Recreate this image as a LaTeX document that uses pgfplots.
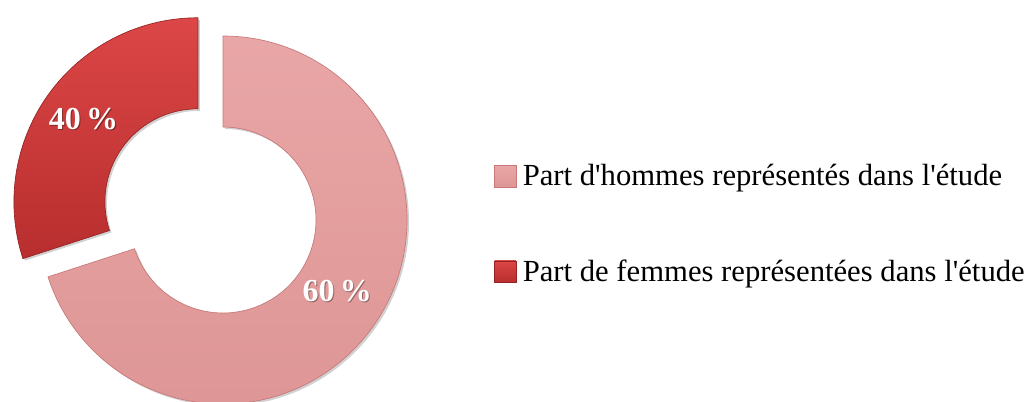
\documentclass[border=0pt]{standalone}
\usepackage{pgfplots}
\usepackage{pgfplotstable}
\pgfplotsset{compat=1.18}
\usetikzlibrary{calc}
\usepackage{fontspec}
\setmainfont{Liberation Serif}[Ligatures=TeXOff]
\definecolor{pinkT}{RGB}{233,166,166}
\definecolor{pinkB}{RGB}{222,150,150}
\definecolor{pinkE}{RGB}{200,120,120}
\definecolor{redT}{RGB}{220,70,70}
\definecolor{redB}{RGB}{184,46,46}
\definecolor{redE}{RGB}{150,35,35}
% share = angular share of each ring segment as drawn; label = printed percentage
\pgfplotstableread{
share label
70 60
30 40
}\donutdata
\begin{document}
\begin{tikzpicture}
\pgfplotstablegetelem{0}{share}\of\donutdata \let\sA\pgfplotsretval
\pgfplotstablegetelem{1}{share}\of\donutdata \let\sB\pgfplotsretval
\pgfplotstablegetelem{0}{label}\of\donutdata \let\lA\pgfplotsretval
\pgfplotstablegetelem{1}{label}\of\donutdata \let\lB\pgfplotsretval
\pgfmathsetmacro{\aEnd}{90-3.6*\sA}
\pgfmathsetmacro{\aMid}{90-1.8*\sA}
\pgfmathsetmacro{\bEnd}{90+3.6*\sB}
\pgfmathsetmacro{\bMid}{90+1.8*\sB}
\def\Ro{138pt}
\def\Ri{69.75pt}
\begin{axis}[x=0.75pt, y=0.75pt, xmin=0, xmax=1027, ymin=0, ymax=401,
  hide axis, clip=true,
  legend image code/.code={\shade[#1] (0pt,-8pt) rectangle (16pt,8pt);},
  legend style={at={(axis cs:494,177)}, anchor=west, draw=none, fill=none,
    inner sep=0pt, row sep=50pt, font=\fontsize{23}{25}\selectfont,
    nodes={inner sep=2pt},
    /tikz/every odd column/.append style={column sep=3pt}},
  legend cell align=left]
\addlegendimage{top color=pinkT, bottom color=pinkB, draw=pinkE, line width=0.4pt}
\addlegendentry{Part d'hommes représentés dans l'étude}
\addlegendimage{top color=redT, bottom color=redB, draw=redE, line width=0.4pt}
\addlegendentry{Part de femmes représentées dans l'étude}
\coordinate (C1) at (axis cs:223,181);
\coordinate (C2) at ($(C1)+(\bMid:23.25pt)$);
% shadows
\fill[black, opacity=0.18] ($(C1)+(1.5pt,-1.5pt)+(90:\Ro)$) arc[start angle=90, end angle=\aEnd, radius=\Ro]
  -- ($(C1)+(1.5pt,-1.5pt)+(\aEnd:\Ri)$) arc[start angle=\aEnd, end angle=90, radius=\Ri] -- cycle;
\fill[black, opacity=0.18] ($(C2)+(1.5pt,-1.5pt)+(90:\Ro)$) arc[start angle=90, end angle=\bEnd, radius=\Ro]
  -- ($(C2)+(1.5pt,-1.5pt)+(\bEnd:\Ri)$) arc[start angle=\bEnd, end angle=90, radius=\Ri] -- cycle;
% segments
\shade[top color=pinkT, bottom color=pinkB, draw=pinkE, line width=0.5pt]
  ($(C1)+(90:\Ro)$) arc[start angle=90, end angle=\aEnd, radius=\Ro]
  -- ($(C1)+(\aEnd:\Ri)$) arc[start angle=\aEnd, end angle=90, radius=\Ri] -- cycle;
\shade[top color=redT, bottom color=redB, draw=redE, line width=0.5pt]
  ($(C2)+(90:\Ro)$) arc[start angle=90, end angle=\bEnd, radius=\Ro]
  -- ($(C2)+(\bEnd:\Ri)$) arc[start angle=\bEnd, end angle=90, radius=\Ri] -- cycle;
% labels
\node[text=black, opacity=0.35, font=\fontsize{24}{24}\selectfont\bfseries] at ($(C2)+(\bMid:106pt)+(0.8pt,-0.8pt)$) {\lB\,\%};
\node[text=white, font=\fontsize{24}{24}\selectfont\bfseries] at ($(C2)+(\bMid:106pt)$) {\lB\,\%};
\node[text=black, opacity=0.35, font=\fontsize{24}{24}\selectfont\bfseries] at ($(C1)+(-32:101pt)+(0.8pt,-0.8pt)$) {\lA\,\%};
\node[text=white, font=\fontsize{24}{24}\selectfont\bfseries] at ($(C1)+(-32:101pt)$) {\lA\,\%};
\end{axis}
\pgfresetboundingbox
\path[use as bounding box] (current axis.south west) rectangle (current axis.north east);
\end{tikzpicture}
\end{document}
